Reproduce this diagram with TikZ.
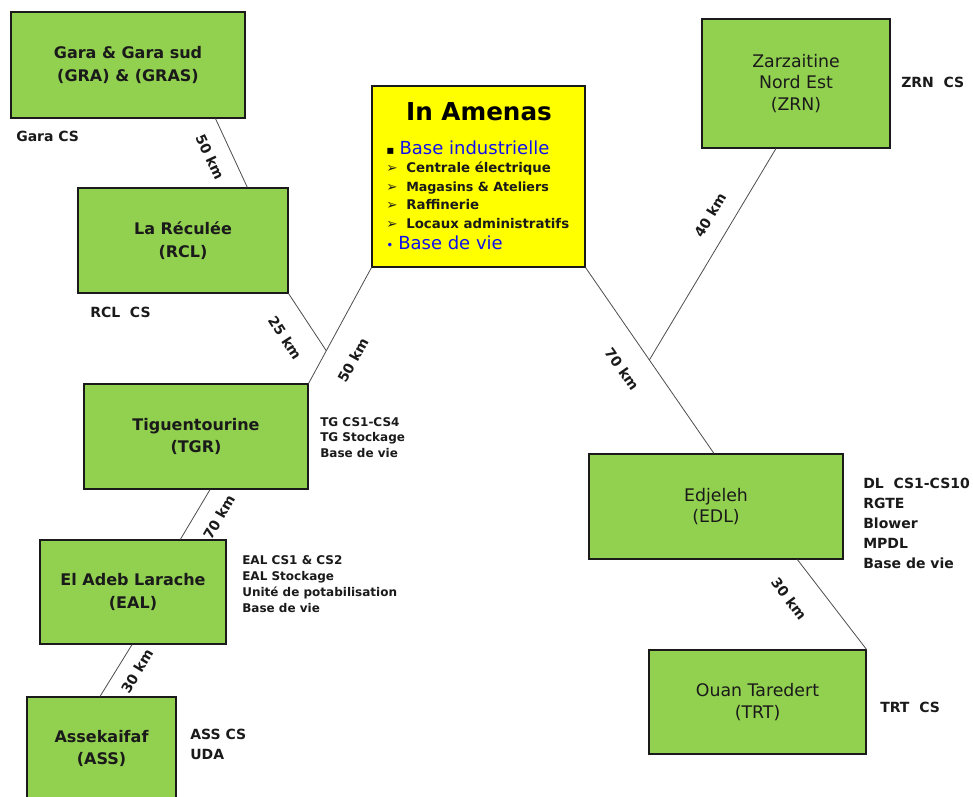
\documentclass[tikz,border=0pt]{standalone}
\usepackage{fontspec}
\setmainfont{DejaVu Sans}
\usetikzlibrary{calc}
\definecolor{fieldgreen}{HTML}{92D050}
\definecolor{baseyellow}{HTML}{FFFF00}
\definecolor{inkdark}{HTML}{1A1A1A}
\definecolor{linkgray}{HTML}{4D4D4D}
\definecolor{sitetext}{HTML}{1010EE}

\begin{document}
\begin{tikzpicture}[x=0.75pt,y=-0.75pt,
  field/.style={draw=inkdark, line width=0.8pt, fill=fieldgreen, inner sep=0pt,
    align=center, text=inkdark},
  boldname/.style={font=\bfseries\fontsize{12}{17}\selectfont},
  plainname/.style={font=\fontsize{13}{16}\selectfont},
  link/.style={draw=linkgray, line width=0.6pt},
  dist/.style={font=\bfseries\fontsize{10.5}{12}\selectfont, text=inkdark, inner sep=0pt},
  facility/.style={text=inkdark, align=left, anchor=west, inner sep=0pt},
  smallfac/.style={facility, font=\bfseries\fontsize{9}{11.8}\selectfont},
  largefac/.style={facility, font=\bfseries\fontsize{10.5}{15}\selectfont},
  campline/.style={anchor=west, inner sep=0pt, text=inkdark,
    font=\bfseries\fontsize{10}{12}\selectfont},
  campsite/.style={anchor=west, inner sep=0pt, text=sitetext,
    font=\fontsize{13.5}{15}\selectfont}
]
\useasboundingbox[fill=white] (0,0) rectangle (973,796);

% fields
\node[field, boldname, minimum width=175.5pt, minimum height=79.5pt] (gara) at (128,65)
  {Gara \& Gara sud\\(GRA) \& (GRAS)};
\node[field, boldname, minimum width=157.5pt, minimum height=78.75pt] (rcl) at (183,240.5)
  {La Réculée\\(RCL)};
\node[field, boldname, minimum width=168pt, minimum height=78.75pt] (tgr) at (196,436.5)
  {Tiguentourine\\(TGR)};
\node[field, boldname, minimum width=139.5pt, minimum height=78pt] (eal) at (133,592)
  {El Adeb Larache\\(EAL)};
\node[field, boldname, minimum width=111.75pt, minimum height=77.25pt] (ass) at (101.5,748.5)
  {Assekaifaf\\(ASS)};
\node[field, plainname, minimum width=141pt, minimum height=96.75pt] (zrn) at (796,83.5)
  {Zarzaitine\\Nord Est\\(ZRN)};
\node[field, plainname, minimum width=190.5pt, minimum height=78.75pt] (edl) at (716,506.5)
  {Edjeleh\\(EDL)};
\node[field, plainname, minimum width=162.75pt, minimum height=78pt] (trt) at (757.5,702)
  {Ouan Taredert\\(TRT)};

% In Amenas base
\node[draw=inkdark, line width=0.8pt, fill=baseyellow, inner sep=0pt,
  minimum width=159.75pt, minimum height=135.75pt] (amenas) at (478.5,176.5) {};
\node[inner sep=0pt, text=black, font=\bfseries\fontsize{18.5}{20}\selectfont] (title) at (479,112) {In Amenas};
\node[campsite] (indus) at (386,148) {\makebox[10pt][l]{\textcolor{black}{\fontsize{9}{9}\selectfont ▪}}Base industrielle};
\node[campline] (c1) at (386,169) {\makebox[15pt][l]{➢}Centrale électrique};
\node[campline, font=\bfseries\fontsize{9.5}{12}\selectfont] (c2) at (386,188) {\makebox[15pt][l]{\fontsize{10}{12}\selectfont ➢}Magasins \& Ateliers};
\node[campline] (c3) at (386,205) {\makebox[15pt][l]{➢}Raffinerie};
\node[campline] (c4) at (386,224) {\makebox[15pt][l]{➢}Locaux administratifs};
\node[campsite] (vie) at (386,243) {\makebox[9pt][l]{\textcolor{sitetext}{\fontsize{9}{9}\selectfont •}}Base de vie};

% pipeline junctions
\coordinate (jw) at ($(amenas.south west)!0.718!(tgr.north east)$);
\coordinate (edltop) at ($(edl.north west)!0.492!(edl.north east)$);
\coordinate (je) at ($(amenas.south east)!0.497!(edltop)$);

% pipelines
\draw[link] ($(gara.south west)!0.872!(gara.south east)$) -- ($(rcl.north west)!0.805!(rcl.north east)$);
\draw[link] (rcl.south east) -- (jw);
\draw[link] (amenas.south west) -- (tgr.north east);
\draw[link] ($(tgr.south west)!0.5625!(tgr.south east)$) -- ($(eal.north west)!0.753!(eal.north east)$);
\draw[link] ($(eal.south west)!0.495!(eal.south east)$) -- ($(ass.north west)!0.49!(ass.north east)$);
\draw[link] (amenas.south east) -- (edltop);
\draw[link] ($(zrn.south west)!0.394!(zrn.south east)$) -- (je);
\draw[link] ($(edl.south west)!0.819!(edl.south east)$) -- (trt.north east);

% distances
\node[dist, rotate=-65] (d1) at (210,157) {50 km};
\node[dist, rotate=-57] (d2) at (285,338) {25 km};
\node[dist, rotate=61] (d3) at (353,360) {50 km};
\node[dist, rotate=60] (d4) at (219,517) {70 km};
\node[dist, rotate=59] (d5) at (137,671) {30 km};
\node[dist, rotate=59] (d6) at (710,215) {40 km};
\node[dist, rotate=-55] (d7) at (622,369) {70 km};
\node[dist, rotate=-53] (d8) at (789,599) {30 km};

% facilities
\node[largefac] (fgara) at (16,136) {Gara CS};
\node[largefac] (frcl) at (90,312) {RCL\ \ CS};
\node[largefac] (fzrn) at (901,82) {ZRN\ \ CS};
\node[smallfac] (ftgr) at (320,437.5) {TG CS1-CS4\\TG Stockage\\Base de vie};
\node[smallfac, font=\bfseries\fontsize{9}{12}\selectfont] (feal) at (242,584) {EAL CS1 \& CS2\\EAL Stockage\\Unité de potabilisation\\Base de vie};
\node[largefac] (fass) at (190,744) {ASS CS\\UDA};
\node[largefac] (fedl) at (863,523.5) {DL\ \ CS1-CS10\\RGTE\\Blower\\MPDL\\Base de vie};
\node[largefac] (ftrt) at (880,707) {TRT\ \ CS};
\end{tikzpicture}
\end{document}
